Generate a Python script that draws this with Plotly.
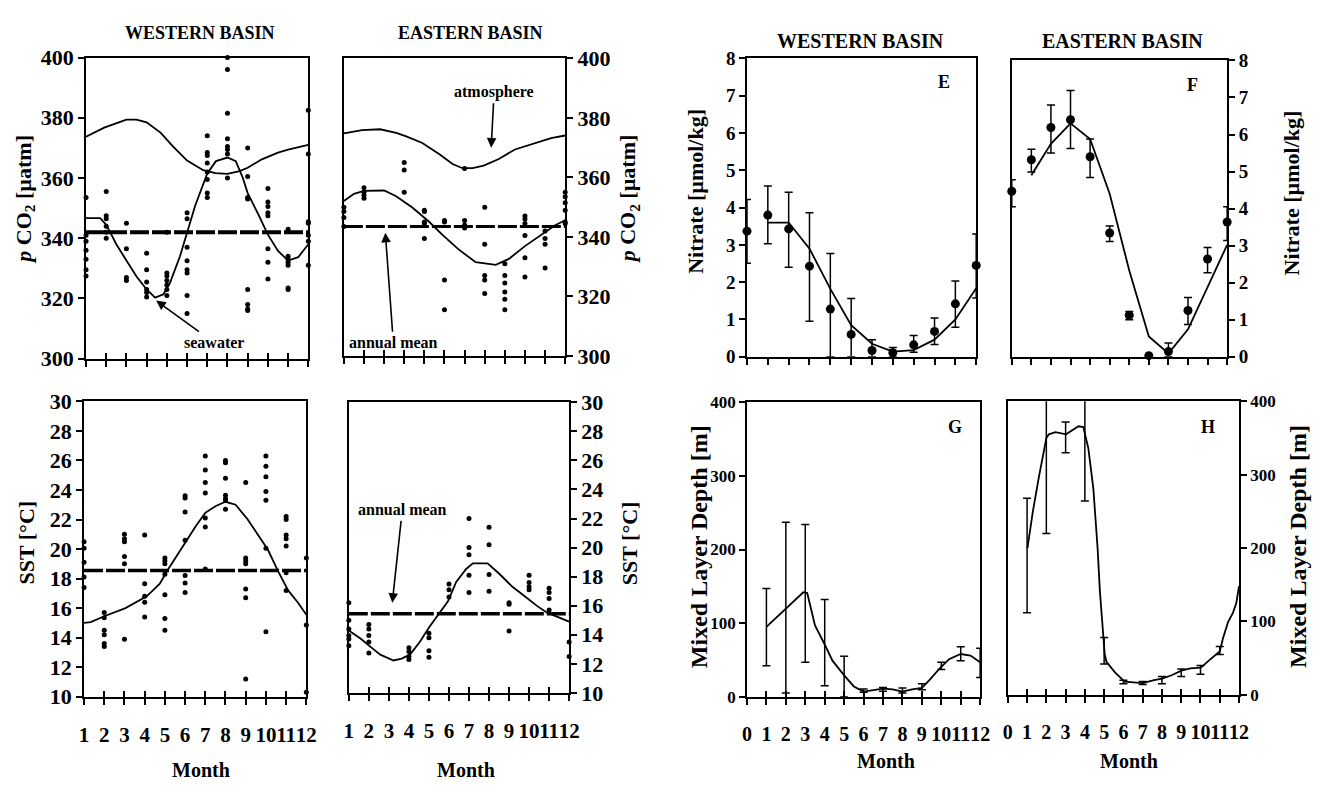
import plotly.graph_objects as go

W, H = 1333, 794
FONT = "Liberation Serif"

months = list(range(1, 13))

# ---------------- Panel A: western basin pCO2 ----------------
pco2_w_obs = [
    [353.5, 341, 339, 336, 333, 329.5, 327.5],
    [355.5, 347.5, 346.5, 344, 342, 340],
    [345, 336.5, 327, 326],
    [335, 329.5, 325.5, 323, 322, 320.5],
    [342, 328.5, 327.5, 326, 324.5, 323, 321],
    [348.5, 346.5, 337, 332.5, 329.5, 328.5, 321, 315],
    [374, 368.5, 367.5, 365, 362, 359.5, 355, 353.5],
    [400, 396, 381.5, 373, 370.5, 369.5, 368, 360],
    [370, 360.5, 353.5, 353, 323, 318, 316.5, 316],
    [356.5, 352, 350.5, 348.5, 347.5, 336.5, 332, 326.5],
    [343, 334, 333, 332, 331, 323.5, 323],
    [382.5, 368, 345.5, 345, 341, 339, 331],
]
atm_w_month = [1, 1.9, 3, 3.5, 4, 4.7, 5.3, 6, 6.8, 7.4, 8, 8.6, 9, 9.7, 10.5, 11, 12]
atm_w_val = [373.7, 376.7, 379.4, 379.4, 378.5, 375.0, 370.5, 365.8, 362.6, 361.6, 361.4,
             362.3, 363.4, 366.2, 368.4, 369.4, 371.0]
sw_w_month = [1, 1.7, 2.0, 2.5, 3, 3.5, 4, 4.42, 4.83, 5.15, 5.65, 6, 6.4, 7, 7.43, 8,
              8.41, 8.74, 9, 9.55, 10, 10.5, 11, 11.5, 12]
sw_w_val = [346.7, 346.7, 344.5, 338.0, 332.6, 327.3, 323.0, 320.3, 321.4, 325.1, 334.0,
            342.2, 350.8, 361.5, 365.6, 366.8, 365.6, 360.4, 355.0, 347.6, 341.2, 335.8,
            332.6, 333.7, 338.0]
pco2_w_mean = 342.0

# ---------------- Panel B: eastern basin pCO2 ----------------
pco2_e_obs = [
    [350, 348.5, 346.5, 343.5],
    [356.5, 355, 354, 353],
    [],
    [365, 362.5, 355],
    [349, 348.5, 345, 344.5, 339.5],
    [345.5, 345, 325.5, 315.5],
    [363, 345.5, 344, 343],
    [350, 337.5, 327, 325.5, 321],
    [331, 327, 324.5, 321.5, 319, 315.5],
    [347, 346, 344.5, 340.5, 333, 326.5],
    [342, 339.5, 337.5, 329.5],
    [355, 353.5, 351.5, 349, 345, 344.5],
]
atm_e_month = [1, 1.9, 2.8, 3.6, 4.1, 4.9, 5.75, 6.4, 6.9, 7.4, 7.95, 8.7, 9.5, 10.5, 11.3, 12]
atm_e_val = [374.8, 375.9, 376.2, 375.0, 373.8, 371.6, 367.8, 364.5, 363.1, 363.1, 364.0,
             366.2, 369.4, 371.6, 373.2, 374.1]
sw_e_month = [1, 1.5, 2, 3, 3.6, 4.4, 5.25, 5.9, 6.7, 7.55, 8.55, 9.2, 10, 10.8, 11.5, 12]
sw_e_val = [352.1, 354.5, 355.5, 355.6, 353.7, 349.9, 345.0, 340.7, 335.8, 331.5, 330.6,
            332.6, 336.9, 340.7, 343.9, 345.6]
pco2_e_mean = 343.5

# ---------------- Panel C: western basin SST ----------------
sst_w_obs = [
    [20.5, 20.05, 19.1, 18.1, 17.4],
    [15.7, 15.35, 14.5, 14.2, 13.6, 13.4],
    [21.0, 20.7, 20.5, 19.5, 19.0, 13.9],
    [20.95, 17.65, 16.8, 16.4, 15.4],
    [19.4, 19.2, 19.0, 18.3, 16.9, 15.3, 14.5],
    [23.6, 23.45, 22.5, 20.6, 18.2, 17.7, 17.05],
    [26.3, 25.35, 24.5, 23.8, 22.1, 21.5, 18.65],
    [26.0, 25.85, 24.8, 23.65, 23.4, 23.3, 22.7],
    [24.5, 19.4, 19.2, 19.0, 17.3, 16.7, 11.2],
    [26.3, 25.6, 24.9, 23.9, 23.3, 20.05, 14.4],
    [22.2, 22.0, 20.95, 20.7, 20.2, 18.4, 17.2],
    [19.4, 14.85, 10.3],
]
sst_w_month = [1, 1.33, 2, 3.05, 4.1, 4.75, 5.1, 5.56, 6.1, 6.55, 7, 7.5, 8, 8.5, 9.1,
               9.63, 10.1, 10.6, 11.1, 11.6, 12]
sst_w_val = [15.0, 15.05, 15.45, 16.0, 16.8, 17.65, 18.5, 19.5, 20.6, 21.6, 22.45, 22.9,
             23.2, 23.0, 22.0, 20.9, 19.95, 18.5, 17.2, 16.35, 15.55]
sst_w_mean = 18.55

# ---------------- Panel D: eastern basin SST ----------------
sst_e_obs = [
    [16.2, 15.0, 14.4, 13.95, 13.7, 13.25],
    [14.7, 14.4, 13.95, 13.5, 12.75],
    [],
    [13.1, 12.85, 12.5, 12.3],
    [14.1, 13.8, 12.9, 12.45],
    [17.5, 17.1, 16.6],
    [22.0, 20.0, 19.5, 18.1, 16.9],
    [21.4, 20.2, 18.15, 17.0],
    [16.2, 16.1, 14.25],
    [18.1, 17.6, 17.3, 17.1],
    [17.2, 16.9, 16.5, 15.7],
    [13.5, 12.5],
]
sst_e_month = [1, 1.58, 2.07, 2.57, 3.23, 3.64, 4.05, 4.55, 5.01, 5.54, 5.95, 6.36, 6.86,
               7.19, 7.93, 8.51, 9.17, 9.83, 10.41, 10.9, 11.48, 12]
sst_e_val = [14.3, 13.74, 13.18, 12.63, 12.23, 12.36, 12.63, 13.52, 14.52, 15.52, 16.3,
             17.64, 18.53, 18.91, 18.91, 18.2, 17.3, 16.6, 15.97, 15.52, 15.2, 14.9]
sst_e_mean = 15.45

# ---------------- Panel E / F: nitrate ----------------
no3_w = [3.37, 3.8, 3.43, 2.43, 1.28, 0.6, 0.17, 0.11, 0.32, 0.68, 1.42, 2.45]
no3_w_hi = [4.22, 4.58, 4.41, 3.86, 2.77, 1.56, 0.46, 0.25, 0.57, 1.04, 2.03, 3.29]
no3_w_lo = [2.51, 3.03, 2.40, 0.95, 0.0, 0.0, 0.0, 0.0, 0.12, 0.33, 0.79, 1.58]
no3_w_fit_month = [2, 3, 4, 5, 6, 7, 8, 9, 10, 11, 12]
no3_w_fit = [3.6, 3.6, 2.9, 1.82, 0.85, 0.35, 0.14, 0.18, 0.46, 1.0, 1.84]

no3_e = [4.47, 5.32, 6.19, 6.4, 5.4, 3.34, 1.12, 0.03, 0.14, 1.25, 2.64, 3.64]
no3_e_hi = [4.78, 5.6, 6.8, 7.19, 5.88, 3.53, 1.22, 0.03, 0.37, 1.6, 2.95, 4.05]
no3_e_lo = [4.05, 4.99, 5.5, 5.62, 4.84, 3.11, 1.0, 0.03, 0.0, 0.87, 2.27, 3.14]
no3_e_fit_month = [2, 3, 4, 5, 6, 7, 8, 9, 10, 11, 12]
no3_e_fit = [4.9, 5.75, 6.3, 5.88, 4.4, 2.33, 0.55, 0.09, 0.74, 1.86, 3.02]

# ---------------- Panel G / H: mixed layer depth ----------------
mld_w_hi = [147, 237, 234, 132, 55, 10.5, 12.5, 12, 17.5, 47, 68, 66]
mld_w_lo = [42, 5, 47, 15, 0, 6, 7.5, 5, 9.5, 37, 49, 26]
mld_w_fit_month = [1, 2, 2.9, 3.1, 3.5, 4, 4.4, 5, 5.5, 6, 6.5, 7, 7.5, 8, 8.5, 9, 9.4,
                   9.9, 10.4, 11, 11.5, 12]
mld_w_fit = [95, 120, 142, 141, 97, 71, 49, 29, 14, 7, 9, 11, 10, 7, 10, 12, 23, 38, 51,
             58, 56, 47]

mld_e_months = list(range(1, 12))
mld_e_hi = [268, 440, 372, 440, 78, 20, 18, 25, 35, 40, 66]
mld_e_lo = [112, 220, 330, 264, 42, 15, 14, 15, 25, 28, 55]
mld_e_fit_month = [1.02, 1.3, 1.6, 1.85, 2.0, 2.13, 2.47, 3.02, 3.4, 3.67, 3.92, 4.18,
                   4.44, 4.66, 4.78, 5.03, 5.12, 5.55, 6.06, 6.57, 7.0, 7.59, 8.02, 8.53,
                   9.01, 9.47, 10.02, 10.49, 11.0, 11.17, 11.43, 11.69, 11.86, 12]
mld_e_fit = [200, 250, 295, 330, 350, 355, 358, 355, 362, 366, 365, 336, 281, 200, 141,
             55, 45, 31, 18, 17, 16, 20, 22, 27, 33, 36, 37, 48, 59, 77, 99, 112, 125, 148]

month_labels = [str(m) for m in months]
month_labels0 = [str(m) for m in range(0, 13)]

# ---------------- layout geometry (pixels) ----------------
# panel: (x0, x1, y0, y1, xrange, yrange, yside, ytickvals, xtickvals, xticktext, cross)
panels = {
    1: (82, 307, 47, 358, [1, 12], [300, 400], "left", list(range(300, 401, 20)), months, None, True),
    2: (343, 567, 48, 355, [1, 12], [300, 400], "right", list(range(300, 401, 20)), months, None, True),
    3: (80, 305, 402, 707, [1, 12], [10, 30], "left", list(range(10, 31, 2)), months, month_labels, True),
    4: (348, 571, 403, 703, [1, 12], [10, 30], "right", list(range(10, 31, 2)), months, month_labels, True),
    5: (751, 983, 48, 356, [1, 12], [0, 8], "left", list(range(0, 9)), months, None, False),
    6: (1019, 1237, 50, 356, [1, 12], [0, 8], "right", list(range(0, 9)), months, None, False),
    7: (751, 987, 403, 707, [0, 12], [0, 400], "left", list(range(0, 401, 100)), list(range(0, 13)), month_labels0, True),
    8: (1015, 1249, 402, 705, [0, 12], [0, 400], "right", list(range(0, 401, 100)), list(range(0, 13)), month_labels0, True),
}
ytick_size = {1: 22, 2: 22, 3: 22, 4: 22, 5: 19, 6: 19, 7: 17, 8: 17}
xtick_size = {3: 21, 4: 21, 7: 20, 8: 20}

fig = go.Figure()


def ax(i, kind):
    return kind if i == 1 else f"{kind}{i}"


def obs_trace(obs, i):
    xs = [m for m, vals in zip(months, obs) for _ in vals]
    ys = [v for vals in obs for v in vals]
    fig.add_trace(go.Scatter(x=xs, y=ys, mode="markers", marker=dict(size=5, color="black"),
                             xaxis=ax(i, "x"), yaxis=ax(i, "y"), cliponaxis=False,
                             showlegend=False, hoverinfo="skip"))


def line_trace(xs, ys, i, width=1.8, dash=None):
    fig.add_trace(go.Scatter(x=xs, y=ys, mode="lines",
                             line=dict(color="black", width=width, dash=dash),
                             xaxis=ax(i, "x"), yaxis=ax(i, "y"), cliponaxis=False,
                             showlegend=False, hoverinfo="skip"))


def mean_trace(val, i, width):
    line_trace([1, 12], [val, val], i, width=width, dash="19px,3px")


def err_trace(xs, ys, hi, lo, i):
    up = [h - y for h, y in zip(hi, ys)]
    dn = [y - l for y, l in zip(ys, lo)]
    fig.add_trace(go.Scatter(
        x=xs, y=ys, mode="markers",
        marker=dict(size=9, color="black"),
        error_y=dict(type="data", array=up, arrayminus=dn, symmetric=False,
                     color="black", thickness=1.5, width=4),
        xaxis=ax(i, "x"), yaxis=ax(i, "y"), cliponaxis=False,
        showlegend=False, hoverinfo="skip"))


def band_trace(xs, hi, lo, i):
    mid = [(h + l) / 2 for h, l in zip(hi, lo)]
    half = [(h - l) / 2 for h, l in zip(hi, lo)]
    fig.add_trace(go.Scatter(
        x=xs, y=mid, mode="markers", marker=dict(size=1, color="rgba(0,0,0,0)"),
        error_y=dict(type="data", array=half, color="black", thickness=1.5, width=4),
        xaxis=ax(i, "x"), yaxis=ax(i, "y"), cliponaxis=True,
        showlegend=False, hoverinfo="skip"))


# A
obs_trace(pco2_w_obs, 1)
line_trace(atm_w_month, atm_w_val, 1)
line_trace(sw_w_month, sw_w_val, 1)
mean_trace(pco2_w_mean, 1, 4)
# B
obs_trace(pco2_e_obs, 2)
line_trace(atm_e_month, atm_e_val, 2)
line_trace(sw_e_month, sw_e_val, 2)
mean_trace(pco2_e_mean, 2, 3)
# C
obs_trace(sst_w_obs, 3)
line_trace(sst_w_month, sst_w_val, 3)
mean_trace(sst_w_mean, 3, 3.5)
# D
obs_trace(sst_e_obs, 4)
line_trace(sst_e_month, sst_e_val, 4)
mean_trace(sst_e_mean, 4, 3.5)
# E
line_trace(no3_w_fit_month, no3_w_fit, 5)
err_trace(months, no3_w, no3_w_hi, no3_w_lo, 5)
# F
line_trace(no3_e_fit_month, no3_e_fit, 6)
err_trace(months, no3_e, no3_e_hi, no3_e_lo, 6)
# G
line_trace(mld_w_fit_month, mld_w_fit, 7)
band_trace(months, mld_w_hi, mld_w_lo, 7)
# H
line_trace(mld_e_fit_month, mld_e_fit, 8)
band_trace(mld_e_months, mld_e_hi, mld_e_lo, 8)

layout = dict(
    width=W, height=H, margin=dict(l=0, r=0, t=0, b=0),
    paper_bgcolor="white", plot_bgcolor="white", showlegend=False,
    font=dict(family=FONT, color="black"),
)

for i, (x0, x1, y0, y1, xr, yr, yside, ytv, xtv, xtt, cross) in panels.items():
    xd = [x0 / W, x1 / W]
    yd = [1 - y1 / H, 1 - y0 / H]
    xa = dict(domain=xd, range=xr, anchor=ax(i, "y"), showline=True, linecolor="black",
              linewidth=1.6, mirror=True, ticks="outside", ticklen=6, tickwidth=1.5,
              tickcolor="black", tickvals=xtv, showgrid=False, zeroline=False,
              fixedrange=True, tickangle=0)
    if xtt is not None:
        xa.update(ticktext=xtt, showticklabels=True, ticklabelstandoff=12,
                  tickfont=dict(family=FONT, size=xtick_size[i], color="black", weight="bold"))
    else:
        xa.update(showticklabels=False)
    ya = dict(domain=yd, range=yr, anchor=ax(i, "x"), side=yside, showline=True,
              linecolor="black", linewidth=1.6, mirror=True, ticks="outside", ticklen=6,
              tickwidth=1.5, tickcolor="black", tickvals=ytv, showgrid=False, zeroline=False,
              fixedrange=True,
              tickfont=dict(family=FONT, size=ytick_size[i], color="black", weight="bold"))
    layout["xaxis" if i == 1 else f"xaxis{i}"] = xa
    layout["yaxis" if i == 1 else f"yaxis{i}"] = ya
    if cross:
        # second set of ticks pointing inward so the month ticks cross the axis line
        j = i + 8
        layout[f"xaxis{j}"] = dict(overlaying=ax(i, "x"), anchor=ax(i, "y"), range=xr,
                                   ticks="inside", ticklen=6, tickwidth=1.5, tickcolor="black",
                                   tickvals=xtv, showticklabels=False, showline=False,
                                   showgrid=False, zeroline=False, side="bottom",
                                   fixedrange=True)
        fig.add_trace(go.Scatter(x=[], y=[], mode="markers", xaxis=f"x{j}",
                                 yaxis=ax(i, "y"), showlegend=False, hoverinfo="skip"))


def txt(x, y, s, size, angle=0):
    return dict(xref="paper", yref="paper", x=x / W, y=1 - y / H, text=s, showarrow=False,
                xanchor="center", yanchor="middle", textangle=angle,
                font=dict(family=FONT, size=size, color="black", weight="bold"))


def arrow_label(i, x, y, dx, dy, s, size=16):
    # arrow head at data point (x, y); label centred dx, dy pixels away
    return dict(xref=ax(i, "x"), yref=ax(i, "y"), x=x, y=y, ax=dx, ay=dy, text=s,
                showarrow=True, arrowhead=2, arrowsize=1.2, arrowwidth=1.6,
                arrowcolor="black", standoff=0, borderpad=2,
                font=dict(family=FONT, size=size, color="black", weight="bold"))


annotations = [
    txt(197, 22, "WESTERN BASIN", 18),
    txt(471, 22, "EASTERN BASIN", 18),
    txt(866, 30, "WESTERN BASIN", 20),
    txt(1131, 30, "EASTERN BASIN", 20),
    txt(20, 193, "<i>p</i> CO<sub>2</sub> [µatm]", 22, -90),
    txt(632, 193, "<i>p</i> CO<sub>2</sub> [µatm]", 22, -90),
    txt(22, 548, "SST [°C]", 22, -90),
    txt(632, 548, "SST [°C]", 22, -90),
    txt(699, 185, "Nitrate [µmol/kg]", 22, -90),
    txt(1302, 187, "Nitrate [µmol/kg]", 22, -90),
    txt(702, 552, "Mixed Layer Depth [m]", 24, -90),
    txt(1308, 552, "Mixed Layer Depth [m]", 24, -90),
    txt(198, 783, "Month", 20),
    txt(467, 783, "Month", 20),
    txt(892, 773, "Month", 20),
    txt(1138, 773, "Month", 20),
    txt(950, 72, "E", 18),
    txt(1202, 75, "F", 18),
    txt(962, 428, "G", 18),
    txt(1218, 428, "H", 18),
    arrow_label(1, 4.47, 319.3, 58, 42, "seawater"),
    arrow_label(2, 8.32, 370.0, 3, -56, "atmosphere"),
    arrow_label(2, 3.06, 341.4, 8, 110, "annual mean"),
    arrow_label(4, 3.17, 16.2, 10, -93, "annual mean"),
]
layout["annotations"] = annotations
fig.update_layout(**layout)
fig.write_html("out.html")
